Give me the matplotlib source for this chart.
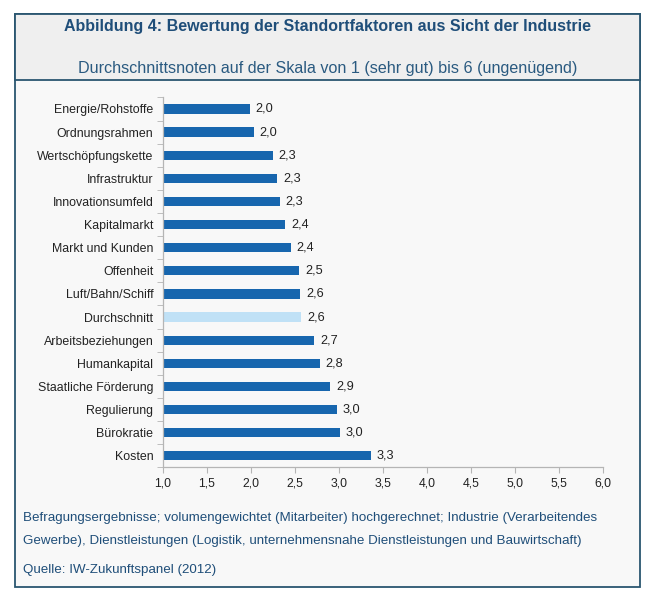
import numpy as np
import matplotlib.pyplot as plt
from matplotlib.patches import Rectangle

plt.rcParams['font.family'] = ['Liberation Sans', 'DejaVu Sans']

# Daten (von oben nach unten)
kategorien = [
    "Energie/Rohstoffe", "Ordnungsrahmen", "Wertschöpfungskette", "Infrastruktur",
    "Innovationsumfeld", "Kapitalmarkt", "Markt und Kunden", "Offenheit",
    "Luft/Bahn/Schiff", "Durchschnitt", "Arbeitsbeziehungen", "Humankapital",
    "Staatliche Förderung", "Regulierung", "Bürokratie", "Kosten",
]
noten = [1.99, 2.03, 2.25, 2.30, 2.33, 2.39, 2.45, 2.55,
         2.56, 2.57, 2.72, 2.78, 2.90, 2.98, 3.01, 3.36]
labels = ["2,0", "2,0", "2,3", "2,3", "2,3", "2,4", "2,4", "2,5",
          "2,6", "2,6", "2,7", "2,8", "2,9", "3,0", "3,0", "3,3"]
xticks = [1.0, 1.5, 2.0, 2.5, 3.0, 3.5, 4.0, 4.5, 5.0, 5.5, 6.0]

W, H = 653, 600
dunkelblau = "#1f4e79"
balken = "#1766ae"
hell = "#c0e1f6"


def fx(px):
    return px / W


def fy(py):
    return 1 - py / H


fig = plt.figure(figsize=(W / 100, H / 100), dpi=100)
fig.patch.set_facecolor("white")

# Rahmen + Kopfbereich
fig.add_artist(Rectangle((fx(15), fy(587)), fx(625), (587 - 14) / H,
                         transform=fig.transFigure, facecolor="#f8f8f8",
                         edgecolor="#2a5670", linewidth=1.3, zorder=0))
fig.add_artist(Rectangle((fx(15), fy(80)), fx(625), (80 - 14) / H,
                         transform=fig.transFigure, facecolor="#efefef",
                         edgecolor="#2a5670", linewidth=1.3, zorder=0))

fig.text(fx(327.5), fy(27), "Abbildung 4: Bewertung der Standortfaktoren aus Sicht der Industrie",
         ha="center", va="center", fontsize=11.5, fontweight="bold", color=dunkelblau)
fig.text(fx(328), fy(69), "Durchschnittsnoten auf der Skala von 1 (sehr gut) bis 6 (ungenügend)",
         ha="center", va="center", fontsize=11.6, color="#2a5a80")

ax = fig.add_axes([fx(163), fy(467.3), fx(603 - 163), (467.3 - 97.4) / H])
ax.set_facecolor("none")

y = np.arange(len(kategorien))
farben = [hell if k == "Durchschnitt" else balken for k in kategorien]
ax.barh(y, np.array(noten) - 1.0, left=1.0, height=0.4, color=farben)

for yi, v, t in zip(y, noten, labels):
    ax.text(v + 0.065, yi, t, va="center", ha="left", fontsize=9.2, color="#222222")

ax.set_xlim(1.0, 6.0)
ax.set_ylim(len(kategorien) - 0.5, -0.5)
ax.set_xticks(xticks)
ax.set_xticklabels([f"{t:.1f}".replace(".", ",") for t in xticks])
ax.set_yticks(y)
ax.set_yticklabels(kategorien)
ax.set_yticks(np.arange(len(kategorien) + 1) - 0.5, minor=True)

for s in ["top", "right"]:
    ax.spines[s].set_visible(False)
for s in ["left", "bottom"]:
    ax.spines[s].set_color("#b5b5b5")
    ax.spines[s].set_linewidth(0.9)

ax.tick_params(axis="y", which="major", length=0, pad=7, labelsize=8.9, labelcolor="#222222")
ax.tick_params(axis="y", which="minor", length=4, color="#b5b5b5")
ax.tick_params(axis="x", length=4, color="#b5b5b5", labelsize=8.8, labelcolor="#222222", pad=3)

# Fußnote
fuss = dunkelblau
fig.text(fx(23), fy(518), "Befragungsergebnisse; volumengewichtet (Mitarbeiter) hochgerechnet; Industrie (Verarbeitendes",
         ha="left", va="center", fontsize=9.6, color=fuss)
fig.text(fx(23), fy(541), "Gewerbe), Dienstleistungen (Logistik, unternehmensnahe Dienstleistungen und Bauwirtschaft)",
         ha="left", va="center", fontsize=9.6, color=fuss)
fig.text(fx(23), fy(570), "Quelle: IW-Zukunftspanel (2012)",
         ha="left", va="center", fontsize=9.6, color=fuss)

fig.savefig("out.png", dpi=100)
